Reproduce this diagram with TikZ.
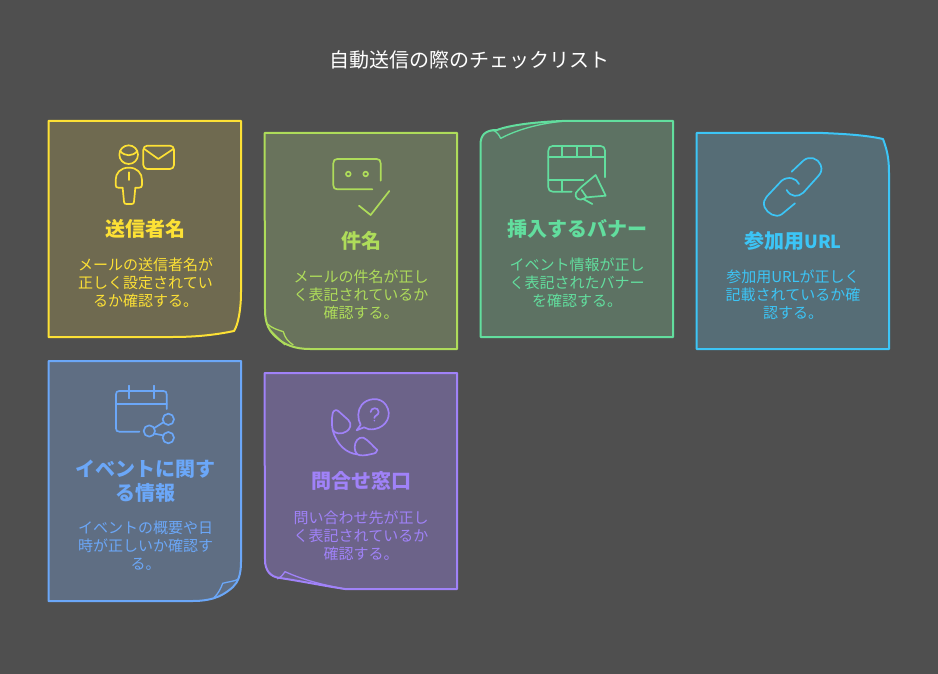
\documentclass[tikz,border=0pt]{standalone}
\usepackage{fontspec}
\newfontfamily\jp{Noto Sans CJK JP}
\definecolor{bgc}{HTML}{4F4F4F}
\definecolor{cya}{HTML}{FDE135}\definecolor{fya}{HTML}{6F6A50}
\definecolor{cgr}{HTML}{AEDC5A}\definecolor{fgr}{HTML}{69735C}
\definecolor{cte}{HTML}{62DE9E}\definecolor{fte}{HTML}{5D7263}
\definecolor{ccy}{HTML}{3CC5F6}\definecolor{fcy}{HTML}{566D76}
\definecolor{cbl}{HTML}{6BA7F8}\definecolor{fbl}{HTML}{5F6E83}
\definecolor{cpu}{HTML}{A082F8}\definecolor{fpu}{HTML}{6C6389}
\tikzset{
 x=1pt,y=-1pt,
 cardline/.style={line width=2pt,line join=round},
 icon/.style={line width=1.7pt,line cap=round,line join=round},
 curl/.style={line width=1.3pt,line join=round},
 ttl/.style={font=\jp\bfseries\fontsize{20}{24}\selectfont,align=center,inner sep=0pt},
 bodytxt/.style={font=\jp\fontsize{15}{18}\selectfont,align=center,inner sep=0pt},
 zoomA/.style={shift={(40,110)},scale=1/3},
 zoomB/.style={shift={(470,110)},scale=1/3},
 zoomC/.style={shift={(40,355)},scale=1/3},
}
\begin{document}
\begin{tikzpicture}
\useasboundingbox (0,0) rectangle (938,674);
\fill[bgc] (0,0) rectangle (938,674);
\node[font=\jp\fontsize{20}{24}\selectfont,text=white,inner sep=0pt] (title) at (469,60) {自動送信の際のチェックリスト};

% card 1
\draw[cardline,cya,fill=fya] (48.5,121) -- (241,121) -- (241,292) .. controls (241,310) and (238,325) .. (234,331) .. controls (215,335) and (195,337) .. (173,337) -- (48.5,337) -- cycle;
\begin{scope}[shift={(100,135)},scale=1/3,icon,cya]
 \draw (86,59) circle (28);
 \draw (60,48) .. controls (75,65) and (98,65) .. (112,48);
 \draw[rounded corners=4pt] (130,32) rectangle (222,102);
 \draw (133,42) -- (175,72) -- (220,42);
 \draw (87,98) .. controls (60,98) and (47,115) .. (47,135) -- (47,150) .. controls (47,156) and (50,158) .. (55,158) -- (68,158) -- (72,200) .. controls (72,206) and (75,207) .. (80,207) -- (95,207) .. controls (100,207) and (102,205) .. (102,200) -- (106,158) -- (118,158) .. controls (123,158) and (126,155) .. (126,150) -- (126,135) .. controls (126,115) and (112,98) .. (87,98) -- cycle;
 \draw (87,112) -- (87,135);
\end{scope}
\node[ttl,text=cya] (t1) at (145,229) {送信者名};
\node[bodytxt,text=cya] (b1) at (145.5,283) {メールの送信者名が\\正しく設定されてい\\るか確認する。};

% card 2
\draw[cardline,cgr,fill=fgr] (264.5,133) -- (457,133) -- (457,349) -- (310,349) .. controls (295,349) and (285,345) .. (277,338) .. controls (270,332) and (265,325) .. (265,310) -- cycle;
\begin{scope}[zoomA,curl,cgr]
 \draw (680,640) .. controls (695,655) and (715,660) .. (730,665) .. controls (735,685) and (745,695) .. (760,705);
 \draw (690,660) -- (735,705);
\end{scope}
\begin{scope}[zoomA,icon,cgr]
 \draw (1022,212) -- (1022,160) .. controls (1022,151) and (1018,147) .. (1010,147) -- (892,147) .. controls (884,147) and (880,151) .. (880,160) -- (880,226) .. controls (880,234) and (884,238) .. (892,238) -- (997,238);
 \draw (925,192) circle (7);
 \draw (977,192) circle (7);
 \draw (957,287) -- (992,315) -- (1048,243);
\end{scope}
\node[ttl,text=cgr] (t2) at (361,241) {件名};
\node[bodytxt,text=cgr] (b2) at (361,295) {メールの件名が正し\\く表記されているか\\確認する。};

% card 3
\draw[cardline,cte,fill=fte] (480.5,145) .. controls (480.5,135) and (485,130) .. (497,130) .. controls (510,125) and (535,122) .. (562,121) -- (673,121) -- (673,337) -- (480.5,337) -- cycle;
\begin{scope}[zoomB,curl,cte]
 \draw (60,62) .. controls (72,58) and (82,65) .. (92,85) .. controls (140,60) and (200,42) .. (275,34);
\end{scope}
\begin{scope}[shift={(535,135)},scale=1/3,icon,cte]
 \draw (210,127) -- (210,47) .. controls (210,38) and (205,33) .. (197,33) -- (53,33) .. controls (45,33) and (40,38) .. (40,47) -- (40,157) .. controls (40,165) and (45,170) .. (53,170) -- (110,170);
 \draw (40,67) -- (210,67);
 \draw (40,135) -- (145,135);
 \draw (80,33) -- (80,67) (125,33) -- (125,67) (168,33) -- (168,67) (80,135) -- (80,170);
 \draw (182,120) -- (212,182) -- (155,187) -- (137,194) .. controls (122,195) and (115,175) .. (130,165) -- (140,155) -- cycle;
 \draw (140,165) -- (155,187);
 \draw (145,192) -- (172,207);
\end{scope}
\node[ttl,text=cte] (t3) at (577,229) {挿入するバナー};
\node[bodytxt,text=cte] (b3) at (577,283) {イベント情報が正し\\く表記されたバナー\\を確認する。};

% card 4
\draw[cardline,ccy,fill=fcy] (696.5,133) -- (823,133) .. controls (845,134) and (865,135) .. (883,139) .. controls (887,150) and (889,158) .. (889,173) -- (889,349) -- (696.5,349) -- cycle;
\begin{scope}[zoomB,icon,ccy]
 \draw (965,185) -- (1000,152) .. controls (1018,136) and (1045,145) .. (1052,165) .. controls (1058,180) and (1052,190) .. (1045,198) -- (1000,248) .. controls (985,262) and (962,262) .. (950,240);
 \draw (975,280) -- (935,313) .. controls (917,325) and (892,310) .. (884,292) .. controls (878,278) and (884,268) .. (890,260) -- (935,212) .. controls (955,197) and (980,205) .. (987,222);
\end{scope}
\node[ttl,text=ccy] (t4) at (793,241) {参加用{\fontsize{18}{24}\selectfont URL}};
\node[bodytxt,text=ccy] (b4) at (793,295) {参加用URLが正しく\\記載されているか確\\認する。};

% card 5
\draw[cardline,cbl,fill=fbl] (48.5,361) -- (241,361) -- (241,562) .. controls (241,575) and (238,582) .. (233,587) .. controls (225,594) and (215,601) .. (193,601) -- (48.5,601) -- cycle;
\begin{scope}[zoomC,curl,cbl]
 \draw (597,672) .. controls (580,680) and (565,680) .. (548,685) .. controls (543,700) and (535,715) .. (522,728);
\end{scope}
\begin{scope}[zoomC,icon,cbl]
 \draw (380,162) -- (380,118) .. controls (380,111) and (377,108) .. (370,108) -- (238,108) .. controls (231,108) and (228,111) .. (228,118) -- (228,220) .. controls (228,227) and (231,230) .. (238,230) -- (298,230);
 \draw (228,147) -- (380,147);
 \draw (266,92) -- (266,130) (341,92) -- (341,130);
 \draw (328,228) circle (17);
 \draw (385,193) circle (17);
 \draw (385,248) circle (17);
 \draw (343,219) -- (370,202);
 \draw (343,236) -- (369,241);
\end{scope}
\node[ttl,text=cbl] (t5) at (145.5,481) {イベントに関す\\る情報};
\node[bodytxt,text=cbl] (b5) at (145.5,546) {イベントの概要や日\\時が正しいか確認す\\る。};

% card 6
\draw[cardline,cpu,fill=fpu] (264.5,373) -- (457,373) -- (457,589) -- (345,589) .. controls (325,586) and (300,581) .. (280,578) .. controls (270,577) and (265,570) .. (265,560) -- cycle;
\begin{scope}[zoomC,curl,cpu]
 \draw (712,672) .. controls (722,668) and (728,660) .. (735,650) .. controls (790,675) and (850,690) .. (915,702);
\end{scope}
\begin{scope}[shift={(320,390)},scale=1/3,icon,cpu]
 \draw (122,104) .. controls (112,88) and (112,60) .. (125,45) .. controls (140,25) and (180,18) .. (198,45) .. controls (218,75) and (200,110) .. (165,117) .. controls (150,120) and (140,117) .. (132,112) -- (110,121) -- cycle;
 \draw (152,66) .. controls (152,52) and (176,50) .. (176,66) .. controls (176,76) and (163,76) .. (163,84);
 \fill (163,92) circle (2.5);
 \draw (38,70) .. controls (40,60) and (50,58) .. (56,64) -- (85,90) .. controls (97,102) and (90,118) .. (80,124) .. controls (65,134) and (45,132) .. (38,120) .. controls (35,105) and (35,85) .. (38,70) -- cycle;
 \draw (38,120) .. controls (50,165) and (80,190) .. (112,193);
 \draw (104,172) .. controls (104,155) and (115,140) .. (130,143) .. controls (145,150) and (160,170) .. (172,180) .. controls (172,188) and (165,190) .. (155,192) .. controls (135,197) and (120,198) .. (112,193) .. controls (106,188) and (104,180) .. (104,172) -- cycle;
\end{scope}
\node[ttl,text=cpu] (t6) at (361,481) {問合せ窓口};
\node[bodytxt,text=cpu] (b6) at (361,536) {問い合わせ先が正し\\く表記されているか\\確認する。};
\end{tikzpicture}
\end{document}
